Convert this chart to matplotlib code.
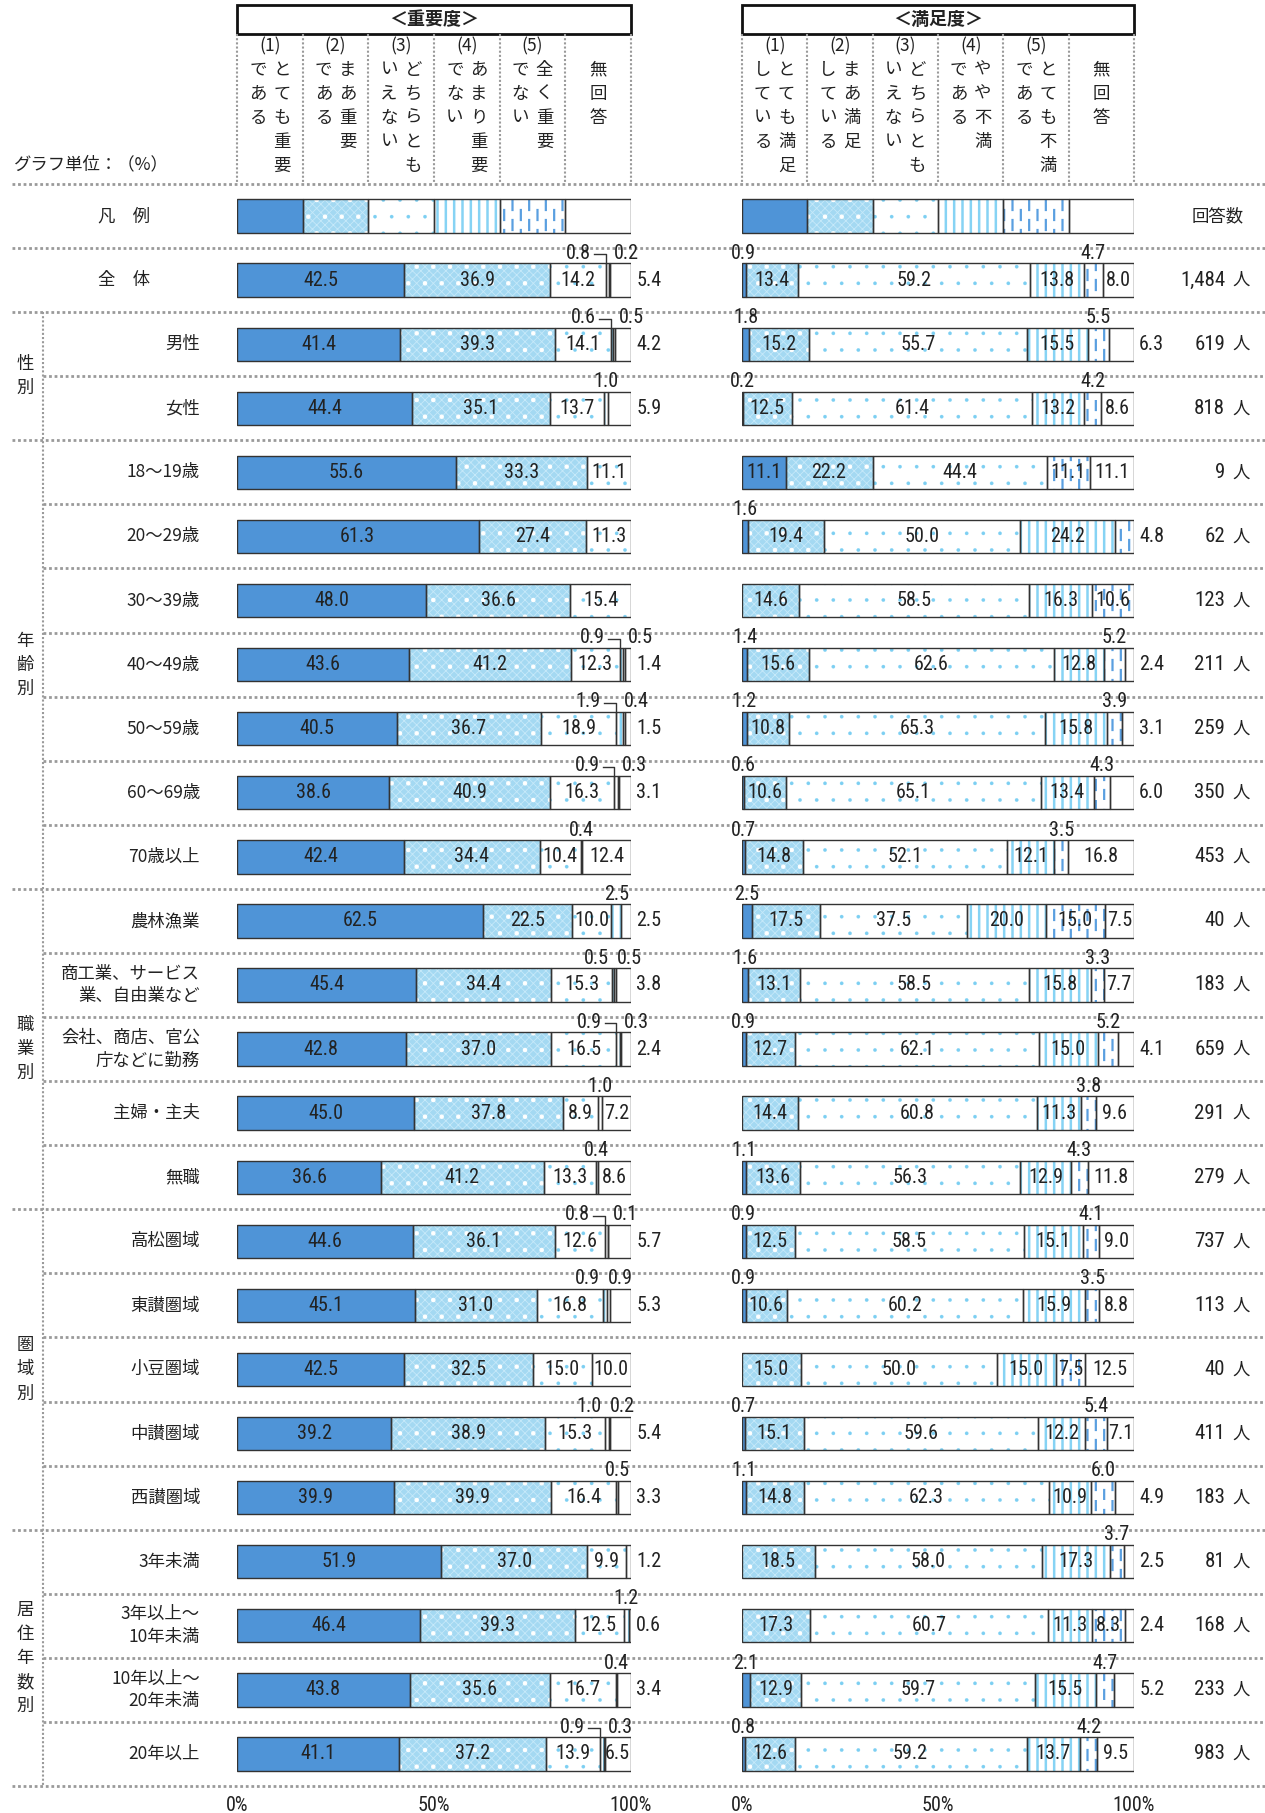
import numpy as np
import matplotlib
matplotlib.use("Agg")
import matplotlib.pyplot as plt
from matplotlib import hatch as mhatch
from matplotlib import font_manager as fm
from matplotlib.path import Path
from matplotlib.lines import Line2D
from matplotlib.patches import Rectangle
from matplotlib.transforms import blended_transform_factory

# ---- data -------------------------------------------------------------
row_labels = ["全　体", "男性", "女性",
              "18～19歳", "20～29歳", "30～39歳", "40～49歳", "50～59歳", "60～69歳", "70歳以上",
              "農林漁業", "商工業、サービス\n業、自由業など", "会社、商店、官公\n庁などに勤務", "主婦・主夫", "無職",
              "高松圏域", "東讃圏域", "小豆圏域", "中讃圏域", "西讃圏域",
              "3年未満", "3年以上～\n10年未満", "10年以上～\n20年未満", "20年以上"]
counts = [1484, 619, 818, 9, 62, 123, 211, 259, 350, 453,
          40, 183, 659, 291, 279, 737, 113, 40, 411, 183, 81, 168, 233, 983]

# groups: (label, first data row, last data row)
groups = [("性別", 1, 2), ("年齢別", 3, 9), ("職業別", 10, 14),
          ("圏域別", 15, 19), ("居住年数別", 20, 23)]

# 重要度
imp_1 = [42.5, 41.4, 44.4, 55.6, 61.3, 48.0, 43.6, 40.5, 38.6, 42.4, 62.5, 45.4,
         42.8, 45.0, 36.6, 44.6, 45.1, 42.5, 39.2, 39.9, 51.9, 46.4, 43.8, 41.1]
imp_2 = [36.9, 39.3, 35.1, 33.3, 27.4, 36.6, 41.2, 36.7, 40.9, 34.4, 22.5, 34.4,
         37.0, 37.8, 41.2, 36.1, 31.0, 32.5, 38.9, 39.9, 37.0, 39.3, 35.6, 37.2]
imp_3 = [14.2, 14.1, 13.7, 11.1, 11.3, 15.4, 12.3, 18.9, 16.3, 10.4, 10.0, 15.3,
         16.5, 8.9, 13.3, 12.6, 16.8, 15.0, 15.3, 16.4, 9.9, 12.5, 16.7, 13.9]
imp_4 = [0.8, 0.6, 1.0, 0, 0, 0, 0.9, 1.9, 0.9, 0.4, 2.5, 0.5,
         0.9, 1.0, 0.4, 0.8, 0.9, 0, 1.0, 0.5, 0, 1.2, 0.4, 0.9]
imp_5 = [0.2, 0.5, 0, 0, 0, 0, 0.5, 0.4, 0.3, 0, 0, 0.5,
         0.3, 0, 0, 0.1, 0.9, 0, 0.2, 0, 0, 0, 0, 0.3]
imp_na = [5.4, 4.2, 5.9, 0, 0, 0, 1.4, 1.5, 3.1, 12.4, 2.5, 3.8,
          2.4, 7.2, 8.6, 5.7, 5.3, 10.0, 5.4, 3.3, 1.2, 0.6, 3.4, 6.5]

# 満足度
sat_1 = [0.9, 1.8, 0.2, 11.1, 1.6, 0, 1.4, 1.2, 0.6, 0.7, 2.5, 1.6,
         0.9, 0, 1.1, 0.9, 0.9, 0, 0.7, 1.1, 0, 0, 2.1, 0.8]
sat_2 = [13.4, 15.2, 12.5, 22.2, 19.4, 14.6, 15.6, 10.8, 10.6, 14.8, 17.5, 13.1,
         12.7, 14.4, 13.6, 12.5, 10.6, 15.0, 15.1, 14.8, 18.5, 17.3, 12.9, 12.6]
sat_3 = [59.2, 55.7, 61.4, 44.4, 50.0, 58.5, 62.6, 65.3, 65.1, 52.1, 37.5, 58.5,
         62.1, 60.8, 56.3, 58.5, 60.2, 50.0, 59.6, 62.3, 58.0, 60.7, 59.7, 59.2]
sat_4 = [13.8, 15.5, 13.2, 0, 24.2, 16.3, 12.8, 15.8, 13.4, 12.1, 20.0, 15.8,
         15.0, 11.3, 12.9, 15.1, 15.9, 15.0, 12.2, 10.9, 17.3, 11.3, 15.5, 13.7]
sat_5 = [4.7, 5.5, 4.2, 11.1, 4.8, 10.6, 5.2, 3.9, 4.3, 3.5, 15.0, 3.3,
         5.2, 3.8, 4.3, 4.1, 3.5, 7.5, 5.4, 6.0, 3.7, 8.3, 4.7, 4.2]
sat_na = [8.0, 6.3, 8.6, 11.1, 0, 0, 2.4, 3.1, 6.0, 16.8, 7.5, 7.7,
          4.1, 9.6, 11.8, 9.0, 8.8, 12.5, 7.1, 4.9, 2.5, 2.4, 5.2, 9.5]

imp_head = [("(1)", "とても重要", "である"), ("(2)", "まあ重要", "である"),
            ("(3)", "どちらとも", "いえない"), ("(4)", "あまり重要", "でない"),
            ("(5)", "全く重要", "でない"), (None, "無回答", None)]
sat_head = [("(1)", "とても満足", "している"), ("(2)", "まあ満足", "している"),
            ("(3)", "どちらとも", "いえない"), ("(4)", "やや不満", "である"),
            ("(5)", "とても不満", "である"), (None, "無回答", None)]

# rows of the 重要度 panel whose small (4)/(5) labels are joined with a bracket
bracket_rows = {"全　体", "男性", "40～49歳", "50～59歳", "60～69歳",
                "会社、商店、官公\n庁などに勤務", "高松圏域", "20年以上"}


# ---- custom hatch: staggered short vertical dashes, keyed on '*' ---------
class DashHatch(mhatch.HatchPatternBase):
    def __init__(self, hatch, density):
        self.num_cols = hatch.count('*') * density
        self.num_dash = 5
        self.num_vertices = self.num_cols * self.num_dash * 2

    def set_vertices_and_codes(self, vertices, codes):
        k = 0
        for i in range(self.num_cols):
            x = (i + 0.5) / self.num_cols
            off = 0.0 if i % 2 == 0 else 0.5
            for j in range(self.num_dash):
                y0 = (j + off) / self.num_dash
                vertices[k] = (x, y0)
                vertices[k + 1] = (x, y0 + 0.5 / self.num_dash)
                codes[k] = Path.MOVETO
                codes[k + 1] = Path.LINETO
                k += 2


mhatch._hatch_types = [t for t in mhatch._hatch_types if t is not mhatch.Stars] + [DashHatch]

# ---- style ------------------------------------------------------------
plt.rcParams['font.family'] = ['Noto Sans CJK JP', 'DejaVu Sans']
plt.rcParams['hatch.linewidth'] = 0.8


def pick_num_font():
    # a condensed sans for the numbers if there is one, else a mono face
    wanted = ['Liberation Sans Narrow', 'Roboto Condensed', 'Noto Sans Condensed',
              'Open Sans Condensed', 'DejaVu Sans Condensed']
    ttf = fm.fontManager.ttflist
    for name in wanted:
        for f in ttf:
            if f.name == name and f.style == 'normal' and f.weight in (400, 'normal', 'regular'):
                return fm.FontProperties(fname=f.fname), 14.5
    for f in ttf:
        if (f.stretch in ('condensed', 'semi-condensed', 'extra-condensed')
                and f.style == 'normal' and f.weight in (400, 'normal', 'regular')):
            return fm.FontProperties(fname=f.fname), 14.5
    return fm.FontProperties(family='Liberation Mono'), 12.5


NUM_FP, NUM_SIZE = pick_num_font()

TXT = '#222222'
EDGE = '#333333'
SEP = '#9a9a9a'
JP_SIZE = 12.5

patterns = [
    dict(face='#4f94d7', hatch=None, hc='none', hlw=1.0),
    dict(face='#a4d9f2', hatch='xxxx', hc='#c6e9f9', hlw=0.6),
    dict(face='white', hatch='.', hc='#7ccff2', hlw=0.2),
    dict(face='white', hatch='||', hc='#86d3f4', hlw=1.8),
    dict(face='white', hatch='**', hc='#5a9fe0', hlw=1.6),
    dict(face='white', hatch=None, hc='none', hlw=1.0),
]

W, H = 1265, 1813
fig = plt.figure(figsize=(W / 100, H / 100), dpi=100)


def fx(px):
    return px / W


def fy(py):
    return 1 - py / H


def num_kw(size=NUM_SIZE):
    return dict(fontproperties=NUM_FP, fontsize=size, color=TXT)


AX_TOP, AX_BOT = 184, 1786
BAR_H = 0.52
n_rows = len(row_labels) + 1        # legend row on top
ypos = np.arange(n_rows)

panels = [(237, 631, [imp_1, imp_2, imp_3, imp_4, imp_5, imp_na], imp_head, "＜重要度＞"),
          (742, 1134, [sat_1, sat_2, sat_3, sat_4, sat_5, sat_na], sat_head, "＜満足度＞")]

axes = []
for x0, x1, series, head, title in panels:
    ax = fig.add_axes([fx(x0), fy(AX_BOT), (x1 - x0) / W, (AX_BOT - AX_TOP) / H])
    axes.append(ax)
    ax.set_xlim(0, 100)
    ax.set_ylim(n_rows - 0.5, -0.5)
    ax.set_frame_on(False)
    ax.set_yticks([])
    ax.set_xticks([0, 50, 100], ['0%', '50%', '100%'])
    ax.tick_params(axis='x', length=0, pad=7)
    for t in ax.get_xticklabels():
        t.set_fontproperties(NUM_FP)
        t.set_fontsize(NUM_SIZE)
        t.set_color(TXT)

    data = np.array(series).T                         # (24, 6)
    legend_share = np.full((1, 6), 100 / 6)
    shares = np.vstack([legend_share, data])
    lefts = np.cumsum(shares, axis=1) - shares

    for k, p in enumerate(patterns):
        w = shares[:, k]
        m = w > 0
        bars = ax.barh(ypos[m], w[m], left=lefts[m, k], height=BAR_H, color=p['face'],
                       edgecolor=p['hc'], hatch=p['hatch'], linewidth=0, zorder=2)
        for b in bars:
            if hasattr(b, 'set_hatch_linewidth'):
                b.set_hatch_linewidth(p['hlw'])
        if k == 1:
            # white sprinkle over the checkered blue
            dots = ax.barh(ypos[m], w[m], left=lefts[m, k], height=BAR_H, fill=False,
                           edgecolor='white', hatch='.', linewidth=0, zorder=2)
            for b in dots:
                if hasattr(b, 'set_hatch_linewidth'):
                    b.set_hatch_linewidth(0.8)
        ax.barh(ypos[m], w[m], left=lefts[m, k], height=BAR_H, fill=False,
                edgecolor=EDGE, linewidth=1.0, zorder=3)

    # value labels
    is_left = title == "＜重要度＞"
    for r in range(len(row_labels)):
        y = r + 1
        vals = data[r]
        lf = lefts[y]
        top = y - BAR_H / 2 - 0.01
        nz = np.nonzero(vals)[0]
        last = nz[-1]
        kw = dict(num_kw(), zorder=5, clip_on=False)
        pair = is_left and 0 < vals[3] < 6.5 and 0 < vals[4] < 6.5
        for k in nz:
            v = vals[k]
            s = f"{v:.1f}"
            mid = lf[k] + v / 2
            if v >= 6.5:
                ax.text(mid, y, s, ha='center', va='center', **kw)
            elif k == last:
                ax.text(101.3, y, s, ha='left', va='center', **kw)
            elif pair and k in (3, 4):
                xb = lf[3]
                if row_labels[r] in bracket_rows:
                    if k == 3:
                        ax.text(xb - 3.8, top, s, ha='right', va='bottom', **kw)
                        ym = top - 0.13
                        ax.plot([xb - 3.0, xb, xb], [ym, ym, top + 0.01], color=EDGE,
                                lw=1.0, zorder=4, clip_on=False)
                    else:
                        ax.text(xb + 2.0, top, s, ha='left', va='bottom', **kw)
                else:
                    if k == 3:
                        ax.text(xb - 0.8, top, s, ha='right', va='bottom', **kw)
                    else:
                        ax.text(xb + 1.2, top, s, ha='left', va='bottom', **kw)
            else:
                ax.text(mid, top, s, ha='center', va='bottom', **kw)

    # header block
    hx0, hx1 = fx(x0), fx(x1)
    fig.add_artist(Rectangle((hx0, fy(34)), hx1 - hx0, fy(5) - fy(34), transform=fig.transFigure,
                             facecolor='white', edgecolor='#111111', linewidth=2.0))
    fig.text((hx0 + hx1) / 2, fy(19.5), title, ha='center', va='center',
             fontsize=13, fontweight='bold', color=TXT)
    cw = (x1 - x0) / 6
    for i in range(7):
        xx = fx(x0 + i * cw)
        fig.add_artist(Line2D([xx, xx], [fy(34), fy(183)], transform=fig.transFigure,
                              color=SEP, lw=1.5, linestyle=(0, (1, 1))))
    char_y = [69.5, 93.5, 117.5, 141.5, 165.5]
    for i, (num, right, left) in enumerate(head):
        cx = x0 + (i + 0.5) * cw
        if num is None:
            for j, ch in enumerate(right):
                fig.text(fx(cx), fy(char_y[j]), ch, ha='center', va='center',
                         fontsize=JP_SIZE, color=TXT)
            continue
        fig.text(fx(cx), fy(46), num, ha='center', va='center', fontsize=JP_SIZE, color=TXT)
        for j, ch in enumerate(right):
            fig.text(fx(cx + 12), fy(char_y[j]), ch, ha='center', va='center',
                     fontsize=JP_SIZE, color=TXT)
        for j, ch in enumerate(left):
            fig.text(fx(cx - 12), fy(char_y[j]), ch, ha='center', va='center',
                     fontsize=JP_SIZE, color=TXT)

ax1, ax2 = axes
row_tf = blended_transform_factory(fig.transFigure, ax1.transData)

fig.text(fx(14), fy(164), "グラフ単位：（%）", ha='left', va='center', fontsize=JP_SIZE, color=TXT)

# row labels and counts
ax1.text(fx(124), 0, "凡　例", transform=row_tf, ha='center', va='center',
         fontsize=JP_SIZE, color=TXT)
ax1.text(fx(1218), 0, "回答数", transform=row_tf, ha='center', va='center',
         fontsize=JP_SIZE, color=TXT)
for r, lab in enumerate(row_labels):
    y = r + 1
    if r == 0:
        ax1.text(fx(124), y, lab, transform=row_tf, ha='center', va='center',
                 fontsize=JP_SIZE, color=TXT)
    else:
        ax1.text(fx(200), y, lab, transform=row_tf, ha='right', va='center',
                 fontsize=JP_SIZE, color=TXT, linespacing=1.35)
    ax1.text(fx(1225), y, f"{counts[r]:,}", transform=row_tf, ha='right', va='center',
             **num_kw(NUM_SIZE + 0.5))
    ax1.text(fx(1241), y, "人", transform=row_tf, ha='center', va='center',
             fontsize=JP_SIZE, color=TXT)

# group labels (vertical)
step = 24 / ((AX_BOT - AX_TOP) / n_rows)
for name, r0, r1 in groups:
    c = (r0 + r1) / 2 + 1
    for j, ch in enumerate(name):
        ax1.text(fx(25), c + (j - (len(name) - 1) / 2) * step, ch, transform=row_tf,
                 ha='center', va='center', fontsize=JP_SIZE, color=TXT)

# separators
full_lines = [-0.5, 0.5, 1.5] + [r1 + 1.5 for _, _, r1 in groups]
inner_lines = [r + 1.5 for _, r0, r1 in groups for r in range(r0, r1)]
for yy in full_lines:
    fig.add_artist(Line2D([fx(12), 1], [yy, yy], transform=row_tf, color=SEP,
                          lw=2.0, linestyle=(0, (1, 1)), zorder=-1))
for yy in inner_lines:
    fig.add_artist(Line2D([fx(43), 1], [yy, yy], transform=row_tf, color=SEP,
                          lw=2.0, linestyle=(0, (1, 1)), zorder=-1))
fig.add_artist(Line2D([fx(43), fx(43)], [1.5, n_rows - 0.5], transform=row_tf, color=SEP,
                      lw=1.5, linestyle=(0, (1, 1)), zorder=-1))

fig.savefig("out.png", dpi=100)
